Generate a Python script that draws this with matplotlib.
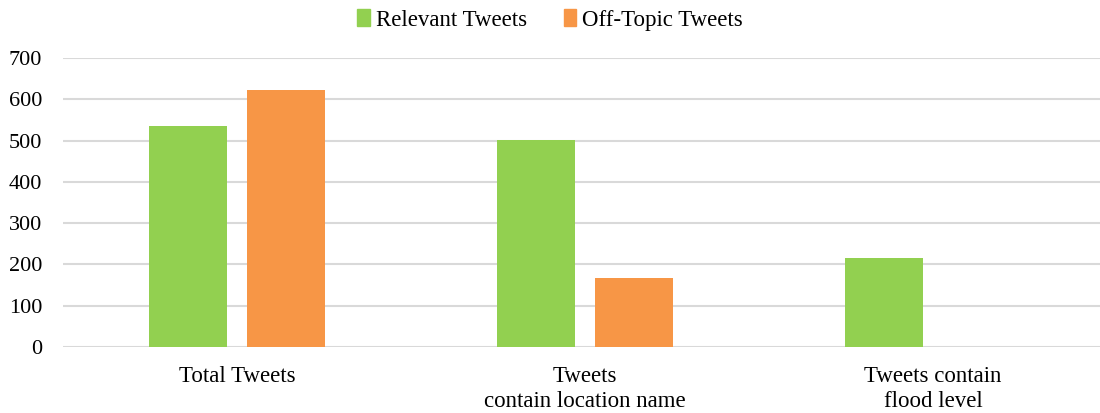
import numpy as np
import matplotlib.pyplot as plt
from matplotlib.patches import Patch

categories = ["Total Tweets", "Tweets\ncontain location name", "Tweets contain\nflood level"]
relevant = [535, 501, 216]
off_topic = [622, 167, 0]
series_names = ["Relevant Tweets", "Off-Topic Tweets"]
colors = ["#92D050", "#F79646"]

plt.rcParams["font.family"] = ["Liberation Serif", "DejaVu Serif"]

fig = plt.figure(figsize=(11, 4.13), dpi=100)
# axes runs past the right edge, like the original
ax = fig.add_axes([63 / 1100, 66 / 413, 1044 / 1100, 289 / 413])

x = np.arange(len(categories))
width = 0.224
offset = 0.141

ax.bar(x - offset, relevant, width, color=colors[0], zorder=3)
ax.bar(x + offset, off_topic, width, color=colors[1], zorder=3)

ax.set_xlim(-0.5, len(categories) - 0.5)
ax.set_ylim(0, 700)
ax.set_yticks(range(0, 701, 100))
ax.set_xticks(x)
ax.set_xticklabels(categories, fontsize=16.5, linespacing=1.25)
ax.tick_params(axis="y", labelsize=16, length=0, pad=15)
ax.tick_params(axis="x", length=0, pad=14)
ax.yaxis.grid(True, color="#d9d9d9", linewidth=1.5, zorder=0)
for s in ax.spines.values():
    s.set_visible(False)

handles = [Patch(color=c) for c in colors]
fig.legend(handles, series_names, loc="center", bbox_to_anchor=(0.5, 1 - 20 / 413),
           ncol=2, frameon=False, fontsize=16.5, handlelength=0.55, handleheight=0.7,
           handletextpad=0.25, columnspacing=1.6)

fig.savefig("out.png", dpi=100)
